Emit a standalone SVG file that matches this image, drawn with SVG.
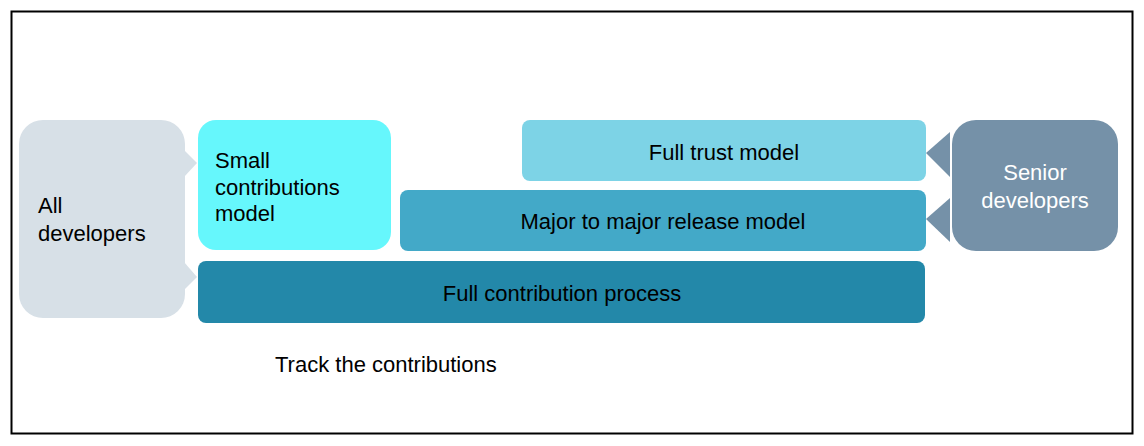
<svg xmlns="http://www.w3.org/2000/svg" width="1144" height="446" viewBox="0 0 1144 446">
<style>
text{font-family:"Liberation Sans",Arial,sans-serif;font-size:22px;fill:#000}
.c{text-anchor:middle}
.w{fill:#fff}
</style>
<rect x="0" y="0" width="1144" height="446" fill="#fff"/>
<rect x="11.5" y="11.5" width="1121" height="422" fill="none" stroke="#000" stroke-width="2"/>
<g id="all-developers">
<rect x="19" y="120" width="166" height="198" rx="24" fill="#D7E0E7"/>
<polygon points="184,150 197,163 184,177" fill="#D7E0E7"/>
<polygon points="184,262 197,277 184,290" fill="#D7E0E7"/>
<text x="38" y="213">All</text>
<text x="38" y="241">developers</text>
</g>
<g id="small-contributions">
<rect x="198" y="120" width="193" height="130" rx="18" fill="#66F7FC"/>
<text x="215" y="168">Small</text>
<text x="215" y="195">contributions</text>
<text x="215" y="221">model</text>
</g>
<g id="full-trust">
<rect x="522" y="120" width="404" height="61" rx="8" fill="#7DD3E6"/>
<text class="c" x="724" y="160">Full trust model</text>
</g>
<g id="major-release">
<rect x="400" y="190" width="526" height="61" rx="8" fill="#43A9C8"/>
<text class="c" x="663" y="229">Major to major release model</text>
</g>
<g id="full-contribution">
<rect x="198" y="261" width="727" height="62" rx="8" fill="#2388A9"/>
<text class="c" x="562" y="301">Full contribution process</text>
</g>
<g id="senior-developers">
<rect x="952" y="120" width="166" height="131" rx="24" fill="#7591A8"/>
<polygon points="950,132 926,153 950,177" fill="#7591A8"/>
<polygon points="950,198 926,219 950,242" fill="#7591A8"/>
<text class="c w" x="1035" y="180">Senior</text>
<text class="c w" x="1035" y="208">developers</text>
</g>
<g id="connectors"></g>
<text x="275" y="372">Track the contributions</text>
</svg>
